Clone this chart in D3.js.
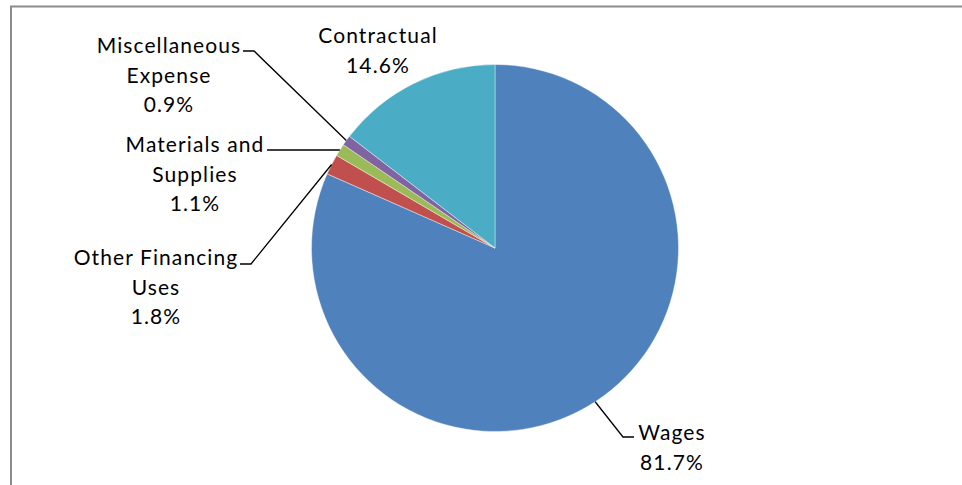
<!DOCTYPE html>
<html>
<head>
<meta charset="utf-8">
<script src="https://cdn.jsdelivr.net/npm/d3@7"></script>
<style>
  html, body { margin: 0; padding: 0; background: #fff; }
  svg { display: block; }
  text { font-family: Lato, "Open Sans", sans-serif; fill: #000; }
</style>
</head>
<body>
<script>
// ---- data ----
const categories = ["Wages", "Other Financing Uses", "Materials and Supplies", "Miscellaneous Expense", "Contractual"];
const values = [81.7, 1.8, 1.1, 0.9, 14.6];
const colors = ["#4F81BD", "#C0504D", "#9BBB59", "#8064A2", "#4BACC6"];
// label text lines (category part) as shown in the chart
const labelLines = [["Wages"], ["Other Financing", "Uses"], ["Materials and", "Supplies"], ["Miscellaneous", "Expense"], ["Contractual"]];

// ---- layout ----
const W = 962, H = 485;
const cx = 495, cy = 248, R = 183.5;
const lineH = 29.5;
// label block: centre x, first baseline y, leader elbow (null = no leader)
const labelLayout = [
  { x: 672, y: 440, elbow: [623, 437], end: [634, 437] },
  { x: 156, y: 265, elbow: [251, 264], end: [240, 264] },
  { x: 195, y: 152, elbow: null, end: [267, 150] },
  { x: 169, y: 53, elbow: [254, 51], end: [243, 51] },
  { x: 378, y: 43, elbow: null, end: null }
];

const svg = d3.select("body").append("svg").attr("width", W).attr("height", H);

// frame (chart area border, clipped by the window)
svg.append("rect")
  .attr("x", 11).attr("y", 6.5)
  .attr("width", W + 20).attr("height", H + 20)
  .attr("fill", "none").attr("stroke", "#8c8c8c").attr("stroke-width", 2);

const data = categories.map((c, i) => ({ name: c, value: values[i], color: colors[i], lines: labelLines[i], layout: labelLayout[i] }));

const pie = d3.pie().sort(null).value(d => d.value);
const arcs = pie(data);
const arc = d3.arc().innerRadius(0).outerRadius(R);

const g = svg.append("g").attr("transform", `translate(${cx},${cy})`);
g.selectAll("path.slice").data(arcs).enter().append("path")
  .attr("class", "slice")
  .attr("d", arc)
  .attr("fill", d => d.data.color)
  .attr("stroke", "#ffffff").attr("stroke-width", 0.4);

const fmt = d3.format(".1f");

// leader lines
arcs.forEach(a => {
  const L = a.data.layout;
  if (!L.end) return;
  const mid = (a.startAngle + a.endAngle) / 2;
  const px = cx + R * Math.sin(mid), py = cy - R * Math.cos(mid);
  const pts = [[px, py]];
  if (L.elbow) pts.push(L.elbow);
  pts.push(L.end);
  svg.append("path")
    .attr("d", d3.line()(pts))
    .attr("fill", "none").attr("stroke", "#000").attr("stroke-width", 1.3);
});

// labels
arcs.forEach(a => {
  const L = a.data.layout;
  const lines = a.data.lines.concat([fmt(a.data.value) + "%"]);
  const t = svg.append("text")
    .attr("text-anchor", "middle")
    .style("font-size", "21px")
    .style("letter-spacing", "1.1px");
  lines.forEach((s, i) => {
    t.append("tspan").attr("x", L.x).attr("y", L.y + i * lineH).text(s);
  });
});
</script>
</body>
</html>
